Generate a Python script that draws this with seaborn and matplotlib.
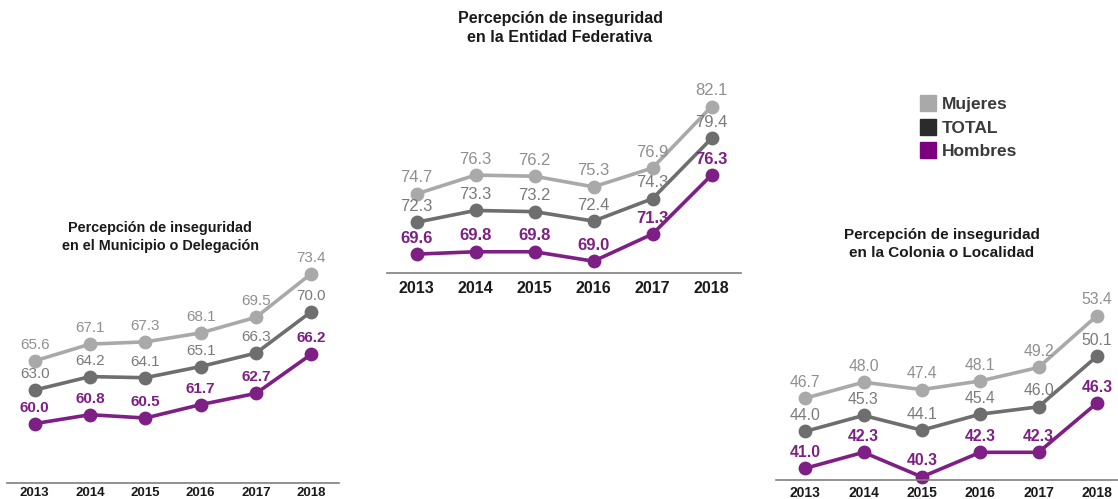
import matplotlib
matplotlib.use("Agg")
import matplotlib.pyplot as plt
from matplotlib.lines import Line2D
import seaborn as sns
import pandas as pd

years = ["2013", "2014", "2015", "2016", "2017", "2018"]
series = ["Mujeres", "TOTAL", "Hombres"]

mun_mujeres = [65.6, 67.1, 67.3, 68.1, 69.5, 73.4]
mun_total = [63.0, 64.2, 64.1, 65.1, 66.3, 70.0]
mun_hombres = [60.0, 60.8, 60.5, 61.7, 62.7, 66.2]

ent_mujeres = [74.7, 76.3, 76.2, 75.3, 76.9, 82.1]
ent_total = [72.3, 73.3, 73.2, 72.4, 74.3, 79.4]
ent_hombres = [69.6, 69.8, 69.8, 69.0, 71.3, 76.3]

col_mujeres = [46.7, 48.0, 47.4, 48.1, 49.2, 53.4]
col_total = [44.0, 45.3, 44.1, 45.4, 46.0, 50.1]
col_hombres = [41.0, 42.3, 40.3, 42.3, 42.3, 46.3]

titles = ["Percepción de inseguridad\nen el Municipio o Delegación",
          "Percepción de inseguridad\nen la Entidad Federativa",
          "Percepción de inseguridad\nen la Colonia o Localidad"]

line_colors = {"Mujeres": "#a9a9a9", "TOTAL": "#6e6e6e", "Hombres": "#7d1f84"}
label_colors = {"Mujeres": "#8f8f8f", "TOTAL": "#7a7a7a", "Hombres": "#7d1f84"}
legend_colors = {"Mujeres": "#a9a9a9", "TOTAL": "#2b2b2b", "Hombres": "#7d007f"}

sns.set_style("white")
plt.rcParams["font.family"] = ["Liberation Sans", "DejaVu Sans"]

W, H = 1118, 499
fig = plt.figure(figsize=(W / 100, H / 100), dpi=100)


def px_axes(left, right, top, bottom):
    return fig.add_axes([left / W, (H - bottom) / H, (right - left) / W, (bottom - top) / H])


def panel(ax, mujeres, total, hombres, ylo, yhi, title, tx, ty, fs_lab, fs_tick, fs_title, pad=6):
    df = pd.DataFrame({
        "year": years * 3,
        "value": mujeres + total + hombres,
        "serie": [s for s in series for _ in years],
    })
    sns.pointplot(data=df, x="year", y="value", hue="serie", order=years,
                  hue_order=series, palette=line_colors, markers="o",
                  linestyles="-", markersize=8, linewidth=2.6, errorbar=None,
                  legend=False, ax=ax)
    for line in ax.lines:
        line.set_clip_on(False)
    for s, vals in zip(series, [mujeres, total, hombres]):
        for i, v in enumerate(vals):
            ax.annotate(f"{v:.1f}", (i, v), xytext=(0, 11.5), textcoords="offset points",
                        ha="center", va="center", fontsize=fs_lab, color=label_colors[s],
                        fontweight="bold" if s == "Hombres" else "normal")
    ax.set_xlim(-0.5, 5.5)
    ax.set_ylim(ylo, yhi)
    sns.despine(ax=ax, left=True)
    ax.spines["bottom"].set_color("#7f7f7f")
    ax.spines["bottom"].set_linewidth(1.2)
    ax.set_yticks([])
    ax.set_xlabel("")
    ax.set_ylabel("")
    ax.set_xticks(range(6))
    ax.set_xticklabels(years, fontweight="bold", fontsize=fs_tick, color="#1a1a1a")
    ax.set_xticks([i - 0.5 for i in range(6)], minor=True)
    ax.tick_params(axis="x", which="major", length=0, pad=pad)
    ax.tick_params(axis="x", which="minor", length=5, width=1, color="#7f7f7f", direction="out")
    ax.patch.set_alpha(0)
    fig.text(tx / W, 1 - ty / H, title, ha="center", va="center", fontsize=fs_title,
             fontweight="bold", color="#1a1a1a", linespacing=1.3)


ax1 = px_axes(7, 339, 200, 483)
panel(ax1, mun_mujeres, mun_total, mun_hombres, 54.7, 54.7 + 283 / 11.2,
      titles[0], 160, 237, 11, 9.5, 10.4, pad=3)

ax2 = px_axes(387, 741, 60, 273)
panel(ax2, ent_mujeres, ent_total, ent_hombres, 68.0, 68.0 + 213 / 11.8,
      titles[1], 560, 28, 12, 11.5, 11.5)

ax3 = px_axes(776, 1126, 270, 480)
panel(ax3, col_mujeres, col_total, col_hombres, 40.05, 40.05 + 210 / 12.3,
      titles[2], 942, 244, 11.3, 10, 11, pad=4)

handles = [Line2D([], [], marker="s", linestyle="", markersize=11,
                  markerfacecolor=legend_colors[s], markeredgecolor=legend_colors[s])
           for s in series]
leg = fig.legend(handles, series, loc="upper left", bbox_to_anchor=(905 / W, 1 - 81 / H),
                 frameon=False, handlelength=0.8, handletextpad=0.4, labelspacing=0.5,
                 prop={"weight": "bold", "size": 12.5})
for t in leg.get_texts():
    t.set_color("#3a3a3a")

fig.savefig("out.png", dpi=100, facecolor="white")
